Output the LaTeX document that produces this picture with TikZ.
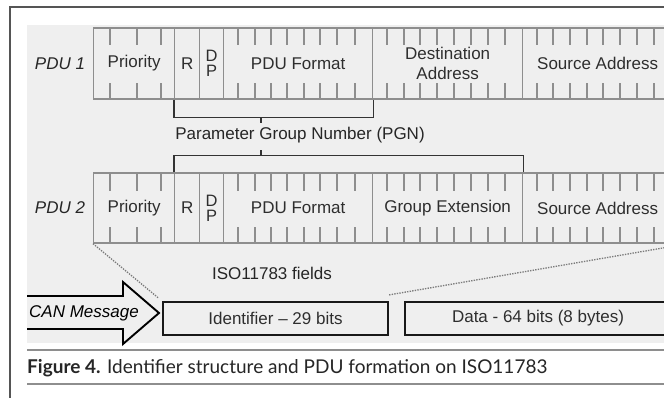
\documentclass[tikz,border=0pt]{standalone}
\usepackage{fontspec}
\setmainfont{Liberation Sans}
\newfontfamily\capfont{Lato}
\definecolor{bggray}{HTML}{EFEFEF}
\definecolor{cellgray}{HTML}{8E8E8E}
\definecolor{celltext}{HTML}{2E2E2E}
\definecolor{framegray}{HTML}{555555}
\definecolor{dotgray}{HTML}{7A7A7A}
\begin{document}
\begin{tikzpicture}[x=1pt,y=-1pt,
  cell/.style={draw=cellgray, line width=1.3pt, inner sep=0pt, anchor=west,
    text=celltext, font=\fontsize{17}{20}\selectfont, align=center},
  rowone/.style={cell, minimum height=71pt},
  rowtwo/.style={cell, minimum height=70pt},
  stacked/.style={font=\fontsize{16.5}{15}\selectfont},
  bittick/.style={cellgray, line width=1.3pt},
  brk/.style={draw=black!80, line width=1.3pt},
  lbl/.style={text=black!85, font=\fontsize{17}{20}\selectfont},
  pdulbl/.style={lbl, font=\fontsize{17}{20}\selectfont\itshape},
  canbox/.style={draw=black!90, line width=2.2pt, minimum height=33pt, inner sep=0pt,
    text=celltext, font=\fontsize{17}{20}\selectfont},
  dots/.style={dotgray, line width=1.3pt, dash pattern=on 1.4pt off 1.2pt},
  rule/.style={draw=cellgray, line width=1.2pt}]
\useasboundingbox (0,0) rectangle (664,397);
\clip (0,0) rectangle (664,397);
\fill[white] (0,0) rectangle (664,397);
\fill[bggray] (27,25) rectangle (670,343);
% outer frame
\draw[framegray, line width=1.4pt] (10,400) -- (10,7) -- (670,7);

% PDU 1 fields
\node[rowone, minimum width=81pt] (p1pri) at (93,63.5) {Priority};
\node[rowone, minimum width=25pt] (p1r) at (174,63.5) {R};
\node[rowone, minimum width=24pt, stacked] (p1dp) at (199,63.5) {D\\P};
\node[rowone, minimum width=149pt] (p1fmt) at (223,63.5) {PDU Format};
\node[rowone, minimum width=150pt] (p1da) at (372,63.5) {Destination\\Address};
\node[rowone, minimum width=150pt] (p1sa) at (522,63.5) {Source Address};

% PDU 2 fields
\node[rowtwo, minimum width=81pt] (p2pri) at (93,208) {Priority};
\node[rowtwo, minimum width=25pt] (p2r) at (174,208) {R};
\node[rowtwo, minimum width=24pt, stacked] (p2dp) at (199,208) {D\\P};
\node[rowtwo, minimum width=149pt] (p2fmt) at (223,208) {PDU Format};
\node[rowtwo, minimum width=150pt] (p2ge) at (372,208) {Group Extension};
\node[rowtwo, minimum width=150pt] (p2sa) at (522,208) {Source Address};

% bit ticks along top and bottom edges
\foreach \x in {110,137,161,238,255,271,287,304,320,337,355,
                387,404,420,437,454,471,488,505,537,553,570,587,603,620,637,654} {
  \draw[bittick] (\x,28) -- (\x,45);
  \draw[bittick] (\x,83) -- (\x,99);
  \draw[bittick] (\x,173) -- (\x,191);
  \draw[bittick] (\x,227) -- (\x,243);
}

% row labels
\node[pdulbl] (l1) at (60,63.5) {PDU 1};
\node[pdulbl] (l2) at (60,208) {PDU 2};

% PGN brackets
\draw[brk] (p1r.south west) -- ++(0,18) -| (p1fmt.south east);
\draw[brk] (261,117) -- (261,123);
\draw[brk] (p2r.north west) -- ++(0,-17) -| (p2ge.north east);
\draw[brk] (261,156) -- (261,150);
\node[lbl] (pgn) at (300,135) {Parameter Group Number (PGN)};

% CAN frame
\node[lbl] (iso) at (272,273) {ISO11783 fields};
\node[canbox, minimum width=225pt] (ident) at (275.5,318.5) {Identifier -- 29 bits};
\node[canbox, minimum width=266pt] (data) at (538,318.5) {Data - 64 bits (8 bytes)};
\draw[black, line width=1.9pt, line join=miter]
  (27,296) -- (123,296) -- (123,282) -- (159,313) -- (123,344) -- (123,329) -- (27,329);
\node[pdulbl, text=black] (can) at (84,313) {CAN Message};

% projection of PDU 2 onto the identifier
\coordinate (farR) at (692,243);
\draw[dots, shorten >=5pt] (p2pri.south west) -- (ident.north west);
\draw[dots] ([yshift=6pt]ident.north east) -- (farR);

% caption
\draw[rule] (27,350) -- (670,350);
\draw[rule] (27,384) -- (670,384);
\node[anchor=base west, inner sep=0pt, text=black!85, font=\capfont\fontsize{19}{20}\selectfont]
  (cap) at (27,373) {\textbf{Figure 4.} Identifier structure and PDU formation on ISO11783};
\end{tikzpicture}
\end{document}
